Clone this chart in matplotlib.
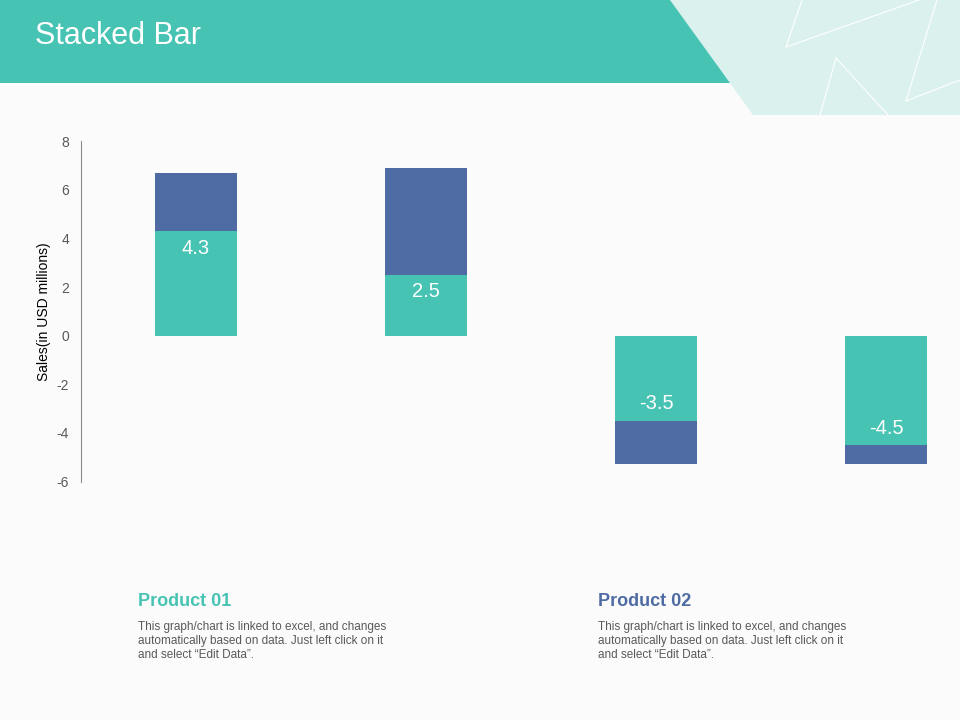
import matplotlib
matplotlib.use("Agg")
import matplotlib.pyplot as plt
from matplotlib.patches import Polygon

plt.rcParams["font.family"] = ["Liberation Sans", "DejaVu Sans"]
plt.rcParams["axes.unicode_minus"] = False

# data
cats = ["1", "2", "3", "4"]
prod1 = [4.3, 2.5, -3.5, -4.5]   # teal, labelled
prod2 = [2.4, 4.4, -1.8, -0.8]   # blue, stacked on top
yticks = [-6, -4, -2, 0, 2, 4, 6, 8]

TEAL = "#47C3B3"
BLUE = "#4E6BA3"
GREY = "#595959"

W, H = 960, 720
fig = plt.figure(figsize=(9.6, 7.2), dpi=100, facecolor="#FBFBFB")

# header decoration, pixel coords (y down)
bg = fig.add_axes([0, 0, 1, 1])
bg.set_xlim(0, W); bg.set_ylim(H, 0); bg.axis("off")
bg.add_patch(Polygon([(670, 0), (960, 0), (960, 115), (753, 115)], closed=True, color="#DAF1EE", lw=0))
bg.add_patch(Polygon([(0, 0), (670, 0), (730, 83), (0, 83)], closed=True, color=TEAL, lw=0))
for seg in [[(786, 47), (919, 0)], [(786, 47), (802, 0)], [(836, 58), (820, 115)],
            [(836, 58), (888, 115)], [(937, 0), (906, 101)], [(906, 101), (960, 80)]]:
    xs, ys = zip(*seg)
    bg.plot(xs, ys, color="white", lw=0.8)
bg.text(35, 36, "Stacked Bar", color="white", fontsize=22, va="center", ha="left")

# product notes
body = "This graph/chart is linked to excel, and changes\nautomatically based on data. Just left click on it\nand select \u201cEdit Data\u201d."
for x, name, col in [(138, "Product 01", TEAL), (598, "Product 02", BLUE)]:
    bg.text(x, 601, name, color=col, fontsize=13, fontweight="bold", va="center", ha="left")
    bg.text(x, 621, body, color=GREY, fontsize=8.5, va="top", ha="left", linespacing=1.2)

# chart
ax = fig.add_axes([81 / W, 1 - 481.5 / H, (W - 81) / W, 340.2 / H])
ax.set_facecolor("none")
x = range(len(cats))
ax.bar(x, prod1, width=0.357, color=TEAL)
ax.bar(x, prod2, width=0.357, bottom=prod1, color=BLUE)
for i, v in enumerate(prod1):
    off = -0.7 if v > 0 else 0.7
    ax.text(i, v + off, f"{v:g}", color="white", fontsize=14.5, ha="center", va="center")

ax.set_xlim(-0.5, 3.32)
ax.set_ylim(-6, 8)
ax.set_yticks(yticks)
ax.set_xticks([])
ax.tick_params(axis="y", length=0, pad=8.5, labelsize=10, labelcolor=GREY)
for s in ["top", "right", "bottom"]:
    ax.spines[s].set_visible(False)
ax.spines["left"].set_color("#8C8C8C")
ax.set_ylabel("Sales(in USD millions)", fontsize=10, color="black", labelpad=4)

fig.savefig("out.png", dpi=100, facecolor=fig.get_facecolor())
